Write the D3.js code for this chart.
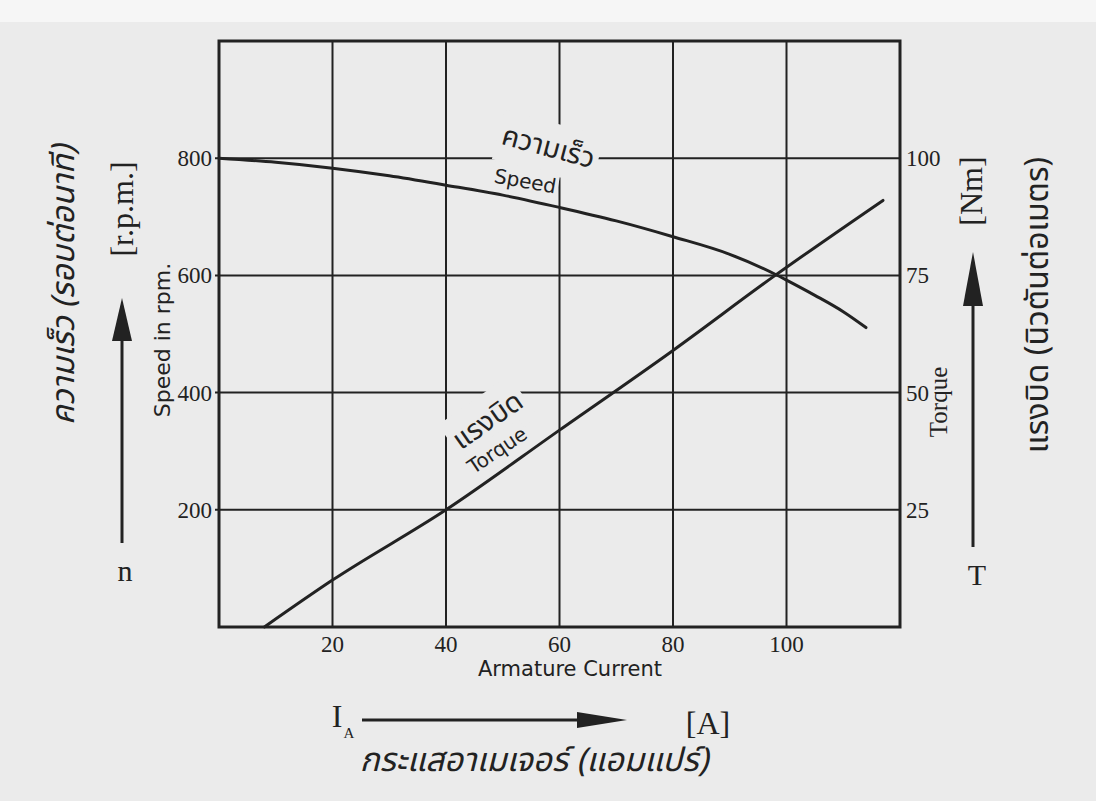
<!DOCTYPE html>
<html>
<head>
<meta charset="utf-8">
<script src="https://cdn.jsdelivr.net/npm/d3@7"></script>
<style>
  html, body { margin: 0; padding: 0; background: #ebebeb; }
  svg { display: block; }
</style>
</head>
<body>
<div id="chart"></div>
<script>
// armature current [A] vs speed [rpm]
const speedCurrent = [0, 10, 20, 30, 40, 50, 60, 70, 80, 90, 98, 100, 105, 110, 114]
const speedRpm     = [800, 793, 783, 770, 754, 737, 716, 693, 666, 636, 602, 592, 566, 538, 511]

// armature current [A] vs torque [Nm]
const torqueCurrent = [8, 20, 40, 60, 80, 98, 117]
const torqueNm      = [0, 10, 25, 42, 59, 75, 91]

const currentTicks = [20, 40, 60, 80, 100]
const rpmTicks = [200, 400, 600, 800]
const torqueTicks = [25, 50, 75, 100]

const width = 1096
const height = 801
const ink = "#222"
const paper = "#ebebeb"
const serif = "'Liberation Serif', 'DejaVu Serif', serif"
const sans = "'DejaVu Sans', sans-serif"
const thai = "'Noto Sans Thai', 'Noto Sans Thai UI', Loma, Garuda, Waree, 'Noto Sans', sans-serif"

const x = d3.scaleLinear([0, 120], [219, 900])
const y = d3.scaleLinear([0, 1000], [627, 41])
const yT = d3.scaleLinear([0, 125], [627, 41])

const svg = d3.select("#chart").append("svg")
    .attr("width", width)
    .attr("height", height)
    .attr("viewBox", [0, 0, width, height])

svg.append("rect").attr("width", width).attr("height", height).attr("fill", paper)
svg.append("rect").attr("width", width).attr("height", 22).attr("fill", "#f6f6f6")

// grid
const grid = svg.append("g").attr("stroke", ink).attr("stroke-width", 2)
grid.selectAll("line.v")
    .data(currentTicks)
    .join("line")
    .attr("class", "v")
    .attr("x1", d => x(d)).attr("x2", d => x(d))
    .attr("y1", y(1000)).attr("y2", y(0))
grid.selectAll("line.h")
    .data(rpmTicks)
    .join("line")
    .attr("class", "h")
    .attr("x1", x(0) - 4).attr("x2", x(120))
    .attr("y1", d => y(d)).attr("y2", d => y(d))

svg.append("rect")
    .attr("x", x(0)).attr("y", y(1000))
    .attr("width", x(120) - x(0)).attr("height", y(0) - y(1000))
    .attr("fill", "none").attr("stroke", ink).attr("stroke-width", 3)

// labels inside the plot, with paper behind them so the grid breaks
function plotLabel(txt, tx, ty, rot, font, size, pad) {
    const g = svg.append("g").attr("transform", `translate(${tx},${ty}) rotate(${rot})`)
    const bg = g.append("rect").attr("fill", paper)
    const t = g.append("text")
        .attr("text-anchor", "middle")
        .attr("font-family", font)
        .attr("font-size", size)
        .attr("fill", ink)
        .text(txt)
    const b = t.node().getBBox()
    bg.attr("x", b.x - pad).attr("y", b.y - pad)
      .attr("width", b.width + 2 * pad).attr("height", b.height + 2 * pad)
    return g
}
plotLabel("ความเร็ว", 546, 156, 15, thai, 28, 4)
plotLabel("Speed", 524, 188, 10, sans, 20, 2)
plotLabel("แรงบิด", 493, 428, -35, thai, 28, 4)
plotLabel("Torque", 501, 456, -34, sans, 20, 2)

// curves
const speedLine = d3.line()
    .x(i => x(speedCurrent[i]))
    .y(i => y(speedRpm[i]))
    .curve(d3.curveMonotoneX)
svg.append("path")
    .attr("d", speedLine(d3.range(speedCurrent.length)))
    .attr("fill", "none").attr("stroke", ink).attr("stroke-width", 3)
    .attr("stroke-linecap", "round")

const torqueLine = d3.line()
    .x(i => x(torqueCurrent[i]))
    .y(i => yT(torqueNm[i]))
    .curve(d3.curveMonotoneX)
svg.append("path")
    .attr("d", torqueLine(d3.range(torqueCurrent.length)))
    .attr("fill", "none").attr("stroke", ink).attr("stroke-width", 3)
    .attr("stroke-linecap", "round")

// tick labels
const ticks = svg.append("g").attr("font-family", serif).attr("font-size", 23).attr("fill", ink)
ticks.selectAll("text.l")
    .data(rpmTicks)
    .join("text")
    .attr("class", "l")
    .attr("x", x(0) - 7).attr("y", d => y(d) + 8)
    .attr("text-anchor", "end")
    .text(d => d)
ticks.selectAll("text.r")
    .data(torqueTicks)
    .join("text")
    .attr("class", "r")
    .attr("x", x(120) + 6).attr("y", d => yT(d) + 8)
    .text(d => d)
ticks.selectAll("text.b")
    .data(currentTicks)
    .join("text")
    .attr("class", "b")
    .attr("x", d => x(d)).attr("y", 652)
    .attr("text-anchor", "middle")
    .text(d => d)

// axis titles
function label(txt, tx, ty, rot, font, size, style) {
    return svg.append("text")
        .attr("transform", `translate(${tx},${ty}) rotate(${rot})`)
        .attr("text-anchor", "middle")
        .attr("font-family", font)
        .attr("font-size", size)
        .attr("font-style", style || "normal")
        .attr("fill", ink)
        .text(txt)
}
label("Armature Current", 570, 676, 0, sans, 21)
label("Speed in rpm.", 170, 340, -90, sans, 22)
label("Torque", 947, 402, -90, serif, 25)
label("ความเร็ว (รอบต่อนาที)", 74, 285, -90, thai, 32, "italic")
label("[r.p.m.]", 133, 209, -90, serif, 32)
label("[Nm]", 982, 191, -90, serif, 32)
label("แรงบิด (นิวตันต่อเมตร)", 1048, 305, -90, thai, 32)
label("กระแสอาเมเจอร์ (แอมแปร์)", 534, 771, 0, thai, 33, "italic")
label("n", 125, 581, 0, serif, 30)
label("T", 977, 585, 0, serif, 30)
label("[A]", 708, 734, 0, serif, 32)
label("I", 337, 727, 0, serif, 32)
label("A", 349, 738, 0, serif, 15)

// arrows
function arrow(x1, y1, x2, y2, headLen, headHalf) {
    const dx = x2 - x1, dy = y2 - y1
    const len = Math.hypot(dx, dy)
    const ux = dx / len, uy = dy / len
    const bx = x2 - ux * headLen, by = y2 - uy * headLen
    svg.append("line")
        .attr("x1", x1).attr("y1", y1).attr("x2", bx).attr("y2", by)
        .attr("stroke", ink).attr("stroke-width", 3)
    svg.append("path")
        .attr("d", `M${x2},${y2}L${bx - uy * headHalf},${by + ux * headHalf}L${bx + uy * headHalf},${by - ux * headHalf}Z`)
        .attr("fill", ink)
}
arrow(122, 543, 122, 298, 43, 10)
arrow(973, 547, 973, 252, 54, 10)
arrow(362, 720, 627, 720, 50, 8)
</script>
</body>
</html>
